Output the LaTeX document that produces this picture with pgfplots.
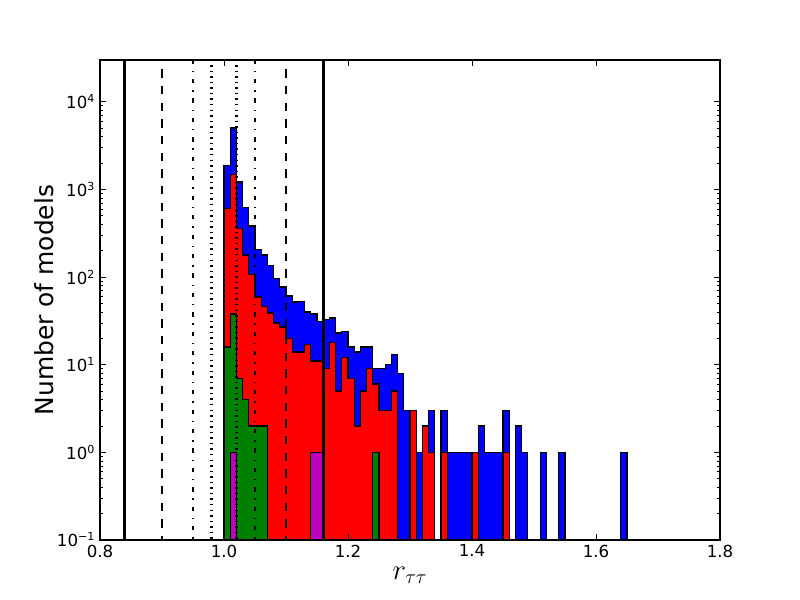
\documentclass[border=0pt]{standalone}
\usepackage{fontspec}
\setmainfont{DejaVu Sans}
\usepackage{pgfplots}
\pgfplotsset{compat=1.18}
\usepackage{pgfplotstable}

\definecolor{hblue}{RGB}{0,0,255}
\definecolor{hred}{RGB}{255,0,0}
\definecolor{hgreen}{RGB}{0,128,0}
\definecolor{hmag}{RGB}{191,0,191}

% counts per bin of width 0.01 (left edge in x); first and last rows close the outline
\pgfplotstableread{
x    b     r     g   m
1.00 0     0     0   0
1.00 1870  605   16  0
1.01 5000  1470  38  1
1.02 1210  360   7   0
1.03 620   178   4   0
1.04 383   107   2   0
1.05 207   59    2   0
1.06 178   46    2   0
1.07 136   39    0   0
1.08 97    30    0   0
1.09 77    27    0   0
1.10 61    20    0   0
1.11 52    14    0   0
1.12 53    14    0   0
1.13 40    17    0   0
1.14 38    11    0   1
1.15 31    11    0   1
1.16 33    9     0   0
1.17 34    18    0   0
1.18 23    5     0   0
1.19 24    12    0   0
1.20 16    7     0   0
1.21 14    2     0   0
1.22 16    5     0   0
1.23 16    9     0   0
1.24 9     6     1   0
1.25 9     3     0   0
1.26 10    3     0   0
1.27 13    5     0   0
1.28 8     0     0   0
1.29 3     0     0   0
1.30 3     3     0   0
1.31 1     0     0   0
1.32 2     2     0   0
1.33 3     1     0   0
1.34 0     0     0   0
1.35 3     1     0   0
1.36 1     0     0   0
1.37 1     0     0   0
1.38 1     0     0   0
1.39 1     0     0   0
1.40 1     1     0   0
1.41 2     0     0   0
1.42 1     0     0   0
1.43 1     0     0   0
1.44 1     0     0   0
1.45 3     1     0   0
1.46 0     0     0   0
1.47 2     0     0   0
1.48 1     0     0   0
1.49 0     0     0   0
1.50 0     0     0   0
1.51 1     0     0   0
1.52 0     0     0   0
1.53 0     0     0   0
1.54 1     0     0   0
1.55 0     0     0   0
1.56 0     0     0   0
1.57 0     0     0   0
1.58 0     0     0   0
1.59 0     0     0   0
1.60 0     0     0   0
1.61 0     0     0   0
1.62 0     0     0   0
1.63 0     0     0   0
1.64 1     0     0   0
1.65 0     0     0   0
}\bins

\begin{document}
\begin{tikzpicture}
\path[use as bounding box] (0,0) rectangle (8in,6in);
\begin{axis}[
    at={(1in,0.6in)}, anchor=south west,
    scale only axis, width=6.2in, height=4.8in,
    ymode=log,
    xmin=0.8, xmax=1.8, ymin=0.1, ymax=3e4,
    xtick={0.8,1.0,1.2,1.4,1.6,1.8},
    ytick={0.1,1,10,100,1000,10000},
    yticklabels={10\textsuperscript{−1},10\textsuperscript{0},10\textsuperscript{1},
                 10\textsuperscript{2},10\textsuperscript{3},10\textsuperscript{4}},
    xticklabel style={/pgf/number format/.cd,fixed,fixed zerofill,precision=1,assume math mode=true},
    tick label style={font=\fontsize{12}{14}\selectfont, black},
    tick align=inside,
    major tick length=4bp, minor tick length=2bp,
    tick style={black, line width=0.5bp},
    axis line style={line width=1bp},
    axis on top,
    xlabel={$r_{\tau\tau}$},
    xlabel style={font=\fontsize{20}{24}\selectfont, at={(axis description cs:0.5,-0.073)}, anchor=center},
    ylabel={Number of models},
    ylabel style={font=\fontsize{18}{21}\selectfont, at={(axis description cs:-0.0903,0.5)}, anchor=center},
    hist/.style={const plot mark left, draw=black, line width=1bp},
  ]
  \addplot[hist, fill=hblue] table[x=x, y expr={max(\thisrow{b},0.01)}] {\bins} -- cycle;
  \addplot[hist, fill=hred]  table[x=x, y expr={max(\thisrow{r},0.01)}] {\bins} -- cycle;
  \addplot[hist, fill=hgreen] table[x=x, y expr={max(\thisrow{g},0.01)}] {\bins} -- cycle;
  \addplot[hist, fill=hmag]  table[x=x, y expr={max(\thisrow{m},0.01)}] {\bins} -- cycle;

  % reference lines
  \addplot[black, line width=2bp] coordinates {(0.84,0.01) (0.84,1e6)};
  \addplot[black, line width=2bp] coordinates {(1.16,0.01) (1.16,1e6)};
  \addplot[black, line width=2bp, dash pattern=on 6bp off 6bp] coordinates {(0.90,0.01) (0.90,1e6)};
  \addplot[black, line width=2bp, dash pattern=on 6bp off 6bp] coordinates {(1.10,0.01) (1.10,1e6)};
  \addplot[black, line width=2bp, dash pattern=on 3bp off 5bp on 1bp off 5bp] coordinates {(0.95,0.01) (0.95,1e6)};
  \addplot[black, line width=2bp, dash pattern=on 3bp off 5bp on 1bp off 5bp] coordinates {(1.05,0.01) (1.05,1e6)};
  \addplot[black, line width=2bp, dash pattern=on 1bp off 3bp] coordinates {(0.98,0.01) (0.98,1e6)};
  \addplot[black, line width=2bp, dash pattern=on 1bp off 3bp] coordinates {(1.02,0.01) (1.02,1e6)};
\end{axis}
\end{tikzpicture}
\end{document}
